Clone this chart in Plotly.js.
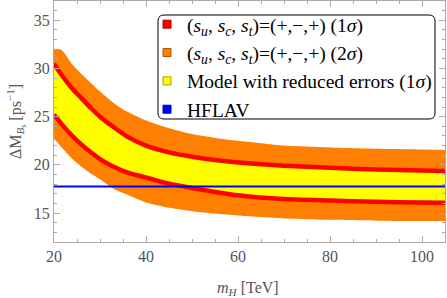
<!DOCTYPE html>
<html>
<head>
<meta charset="utf-8">
<script src="https://cdn.plot.ly/plotly-3.0.1.min.js"></script>
<style>html,body{margin:0;padding:0;background:#fff;}#chart{width:447px;height:298px;}</style>
</head>
<body>
<div id="chart"></div>
<script>
// m_H [TeV]
const mH = [20, 21.7, 24, 26, 28, 30, 33, 36, 40, 45, 50, 55, 60, 70, 80, 90, 100, 105];
// 2 sigma band (orange)
const orangeTop = [32.05, 31.9, 30.4, 29.4, 28.5, 27.6, 26.4, 25.5, 24.6, 23.8, 23.2, 22.8, 22.5, 22.0, 21.8, 21.67, 21.6, 21.57];
const orangeBot = [22.7, 21.8, 20.6, 19.8, 19.1, 18.5, 17.5, 16.9, 16.1, 15.55, 15.2, 14.95, 14.75, 14.45, 14.3, 14.21, 14.18, 14.17];
// 1 sigma lines (red) / reduced errors band (yellow)
const redUpper = [30.5, 29.3, 27.9, 26.9, 25.9, 25.0, 23.9, 22.9, 22.0, 21.3, 20.85, 20.5, 20.25, 19.92, 19.7, 19.52, 19.42, 19.37];
const redLower = [25.2, 24.2, 23.0, 22.1, 21.3, 20.6, 19.8, 19.2, 18.7, 18.05, 17.6, 17.2, 16.85, 16.45, 16.3, 16.17, 16.09, 16.06];
// HFLAV
const hflavX = [20, 105];
const hflavY = [17.76, 17.76];

const legendNames = [
  "(<i>s</i><sub><i>u</i></sub>, <i>s</i><sub><i>c</i></sub>, <i>s</i><sub><i>t</i></sub>)=(+,\u2212,+) (1<i>\u03c3</i>)",
  "(<i>s</i><sub><i>u</i></sub>, <i>s</i><sub><i>c</i></sub>, <i>s</i><sub><i>t</i></sub>)=(+,\u2212,+) (2<i>\u03c3</i>)",
  "Model with reduced errors (1<i>\u03c3</i>)",
  "HFLAV"
];
const legendColors = ["#FF0000", "#FF8000", "#FFFF00", "#0000FF"];
const legendBorders = ["#B00000", "#B05800", "#A0A000", "#0000A0"];
const xTitle = "<i>m</i><sub><i>H</i></sub> [TeV]";
const yTitle = "\u0394M<sub><i>B</i><sub>s</sub></sub> [ps<sup>\u22121</sup>]";

const traces = [
  {x: mH, y: orangeBot, mode: 'lines', line: {width: 0, shape: 'spline', smoothing: 0.6}, showlegend: false, hoverinfo: 'skip'},
  {x: mH, y: orangeTop, mode: 'lines', fill: 'tonexty', fillcolor: '#FF8000', line: {width: 0, shape: 'spline', smoothing: 0.6}, showlegend: false, hoverinfo: 'skip'},
  {x: mH, y: redLower, mode: 'lines', line: {width: 0, shape: 'spline', smoothing: 0.6}, showlegend: false, hoverinfo: 'skip'},
  {x: mH, y: redUpper, mode: 'lines', fill: 'tonexty', fillcolor: '#FFFF00', line: {width: 0, shape: 'spline', smoothing: 0.6}, showlegend: false, hoverinfo: 'skip'},
  {x: mH, y: redUpper, mode: 'lines', line: {color: '#FF0000', width: 4.5, shape: 'spline', smoothing: 0.6}, showlegend: false},
  {x: mH, y: redLower, mode: 'lines', line: {color: '#FF0000', width: 4.5, shape: 'spline', smoothing: 0.6}, showlegend: false},
  {x: hflavX, y: hflavY, mode: 'lines', line: {color: '#0000FF', width: 2}, showlegend: false}
];
legendNames.forEach((n, i) => {
  traces.push({x: [null], y: [null], mode: 'markers', name: n, legendgroup: 'g' + i,
    marker: {symbol: 'square', size: 8, color: legendColors[i], line: {color: legendBorders[i], width: 1}}});
});

const axisCommon = {
  showline: true, linecolor: '#aaaaaa', linewidth: 1, mirror: 'ticks',
  ticks: 'inside', ticklen: 6, tickcolor: '#aaaaaa', tickwidth: 1,
  showgrid: false, zeroline: false,
  tickfont: {family: 'Liberation Serif, serif', size: 16, color: '#555555'}
};

const layout = {
  width: 447, height: 298,
  margin: {l: 54, r: 2, t: 1, b: 56},
  paper_bgcolor: '#ffffff', plot_bgcolor: '#ffffff',
  xaxis: Object.assign({}, axisCommon, {
    range: [20, 105], tickvals: [20, 40, 60, 80, 100],
    minor: {dtick: 5, tick0: 20, ticklen: 3, ticks: 'inside', tickcolor: '#aaaaaa'}
  }),
  yaxis: Object.assign({}, axisCommon, {
    range: [12, 37], tickvals: [15, 20, 25, 30, 35],
    minor: {dtick: 1, tick0: 12, ticklen: 3, ticks: 'inside', tickcolor: '#aaaaaa'},
    title: {text: yTitle, font: {family: 'Liberation Serif, serif', size: 16, color: '#555555'}, standoff: 8}
  }),
  annotations: [{
    xref: 'paper', yref: 'paper', x: (248-54)/391, y: 1 - (288-1)/241,
    xanchor: 'center', yanchor: 'middle', showarrow: false, text: xTitle,
    font: {family: 'Liberation Serif, serif', size: 16, color: '#555555'}
  }],
  shapes: [{
    type: 'path', xref: 'paper', yref: 'paper', layer: 'above',
    path: (function(){
      const W = 391, H = 241;
      const x0 = (158-54)/W, x1 = (435-54)/W, y1 = 1 - (15-1)/H, y0 = 1 - (119-1)/H;
      const rx = 6/W, ry = 6/H;
      return `M ${x0+rx},${y1} L ${x1-rx},${y1} Q ${x1},${y1} ${x1},${y1-ry} L ${x1},${y0+ry} Q ${x1},${y0} ${x1-rx},${y0} L ${x0+rx},${y0} Q ${x0},${y0} ${x0},${y0+ry} L ${x0},${y1-ry} Q ${x0},${y1} ${x0+rx},${y1} Z`;
    })(),
    fillcolor: '#ffffff', line: {color: '#000000', width: 1}
  }],
  legend: {
    x: (147-54)/391, y: 1 - (5-1)/241, xanchor: 'left', yanchor: 'top',
    bgcolor: 'rgba(0,0,0,0)', borderwidth: 0, tracegroupgap: 0,
    font: {family: 'Liberation Serif, serif', size: 19.5, color: '#000000'}
  },
  showlegend: true
};

Plotly.newPlot('chart', traces, layout, {staticPlot: true, displayModeBar: false});
</script>
</body>
</html>
